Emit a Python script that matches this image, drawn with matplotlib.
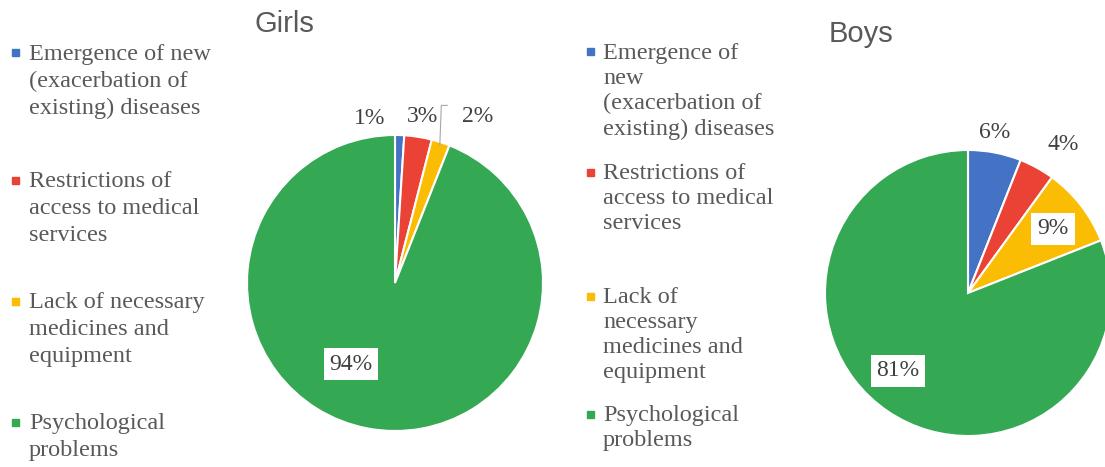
import numpy as np
import matplotlib
matplotlib.use("Agg")
import matplotlib.pyplot as plt

W, H = 1105, 467

categories = ["Emergence of new\n(exacerbation of\nexisting) diseases",
              "Restrictions of\naccess to medical\nservices",
              "Lack of necessary\nmedicines and\nequipment",
              "Psychological\nproblems"]
categories_boys = ["Emergence of\nnew\n(exacerbation of\nexisting) diseases",
                   "Restrictions of\naccess to medical\nservices",
                   "Lack of\nnecessary\nmedicines and\nequipment",
                   "Psychological\nproblems"]
girls = [1, 3, 2, 94]
boys = [6, 4, 9, 81]
colors = ["#4472C4", "#EA4335", "#FBBC04", "#34A853"]

text_grey = "#595959"
label_grey = "#404040"
serif = "Liberation Serif"
sans = "Liberation Sans"

fig = plt.figure(figsize=(W / 100, H / 100), dpi=100)


def px(x, y):
    # pixel position (from top-left) to figure fraction
    return x / W, 1 - y / H


def pie_axes(cx, cy, r):
    return fig.add_axes([(cx - r) / W, (H - cy - r) / H, 2 * r / W, 2 * r / H])


# ---- Girls
ax1 = pie_axes(395, 283, 148)
ax1.pie(girls, colors=colors, startangle=90, counterclock=False,
        wedgeprops=dict(edgecolor="white", linewidth=1.5))
ax1.set_aspect("equal")
ax1.set_xlim(-1, 1)
ax1.set_ylim(-1, 1)
ax1.axis("off")

# ---- Boys
ax2 = pie_axes(968, 293, 143)
ax2.pie(boys, colors=colors, startangle=90, counterclock=False,
        wedgeprops=dict(edgecolor="white", linewidth=1.5))
ax2.set_aspect("equal")
ax2.set_xlim(-1, 1)
ax2.set_ylim(-1, 1)
ax2.axis("off")

# titles
fig.text(*px(255, 24), "Girls", fontsize=21, family=sans, color=text_grey,
         ha="left", va="center")
fig.text(*px(829, 34), "Boys", fontsize=21, family=sans, color=text_grey,
         ha="left", va="center")

# data labels (Excel-like placement)
lab = dict(fontsize=17, family=serif, color=label_grey, ha="center", va="center")
box = dict(boxstyle="square,pad=0.25", fc="white", ec="none")
fig.text(*px(370, 118), f"{girls[0]}%", **lab)
fig.text(*px(422, 116), f"{girls[1]}%", **lab)
fig.text(*px(478, 116), f"{girls[2]}%", **lab)
fig.text(*px(351, 364), f"{girls[3]}%", bbox=box, **lab)

fig.text(*px(995, 133), f"{boys[0]}%", **lab)
fig.text(*px(1063, 144), f"{boys[1]}%", **lab)
fig.text(*px(1053, 229), f"{boys[2]}%", bbox=box, **lab)
fig.text(*px(898, 371), f"{boys[3]}%", bbox=box, **lab)

# leader line for the small yellow slice of girls
ang = np.deg2rad(90 - (girls[0] + girls[1] + girls[2] / 2) * 3.6)
x0, y0 = 0.98 * np.cos(ang), 0.98 * np.sin(ang)
ax1.plot([x0, x0 + 0.01, x0 + 0.05], [y0, 1.20, 1.20], color="#a6a6a6",
         lw=0.8, clip_on=False)


def legend(x_sq, x_txt, ys, labels, spacing):
    for y, lbl, c in zip(ys, labels, colors):
        fx, fy = px(x_sq, y)
        fig.patches.append(plt.Rectangle((fx, fy - 3.5 / H), 7 / W, 7 / H,
                                         transform=fig.transFigure,
                                         color=c, figure=fig))
        tx, ty = px(x_txt, y - 9)
        fig.text(tx, ty, lbl, fontsize=17.5, family=serif, color=text_grey,
                 ha="left", va="top", linespacing=spacing)


legend(12, 29, [53, 180, 301, 422], categories, 1.36)
legend(587, 603, [52, 172, 296, 414], categories_boys, 1.26)

fig.savefig("out.png", dpi=100, facecolor="white")
